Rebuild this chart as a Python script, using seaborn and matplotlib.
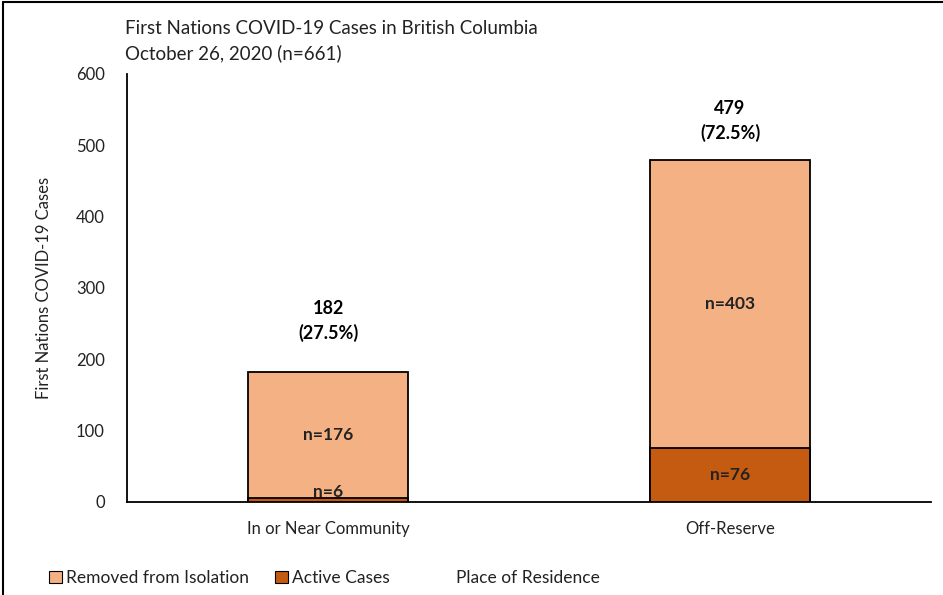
import matplotlib
matplotlib.use("Agg")
import matplotlib.pyplot as plt
import seaborn as sns
import numpy as np
import pandas as pd
from matplotlib.patches import Patch
from matplotlib.lines import Line2D

categories = ["In or Near Community", "Off-Reserve"]
removed = [176, 403]
active = [6, 76]
title_lines = ["First Nations COVID-19 Cases in British Columbia", "October 26, 2020 (n=661)"]
y_ticks = [0, 100, 200, 300, 400, 500, 600]

LIGHT = "#F4B183"
DARK = "#C55A11"
TXT = "#222222"
total_label_gap_pts = [22, 13]   # style: gap above each bar for the total label

sns.set_theme(style="white")
plt.rcParams["font.family"] = ["Lato", "DejaVu Sans"]

totals = [r + a for r, a in zip(removed, active)]
grand = sum(totals)
df = pd.DataFrame({"cat": categories, "total": totals, "active": active, "removed": removed})

fig = plt.figure(figsize=(9.43, 5.95), dpi=100)
ax = fig.add_axes([127/943, 1 - 502/595, (931 - 127)/943, (502 - 74)/595])

sns.barplot(data=df, x="cat", y="total", color=LIGHT, edgecolor="black", linewidth=1.3,
            width=0.4, ax=ax, saturation=1)
sns.barplot(data=df, x="cat", y="active", color=DARK, edgecolor="black", linewidth=1.3,
            width=0.4, ax=ax, saturation=1)
n = len(categories)
for k, p in enumerate(ax.patches):
    p.set_zorder(2 if k < n else 3)

for i, (r, a) in enumerate(zip(removed, active)):
    ax.text(i, a + r / 2, f"n={r}", ha="center", va="center", fontsize=12.5,
            fontweight="bold", color=TXT, zorder=4)
    if a > 30:
        ax.text(i, a / 2, f"n={a}", ha="center", va="center", fontsize=12.5,
                fontweight="bold", color=TXT, zorder=4)
    else:
        # small segment: label sits just above and is partly covered by the dark segment
        ax.annotate(f"n={a}", (i, a / 2), xytext=(0, 6), textcoords="offset points",
                    ha="center", va="center", fontsize=12.5, fontweight="bold",
                    color=TXT, zorder=2.5)

for i, t in enumerate(totals):
    ax.annotate(f"{t}\n({t / grand * 100:.1f}%)", (i, t), xytext=(0, total_label_gap_pts[i]),
                textcoords="offset points", ha="center", va="bottom",
                fontsize=13, fontweight="bold", linespacing=1.45, color="black")

ax.set_xlim(-0.5, 1.5)
ax.set_ylim(0, 600)
ax.set_yticks(y_ticks)
ax.set_yticklabels([str(v) for v in y_ticks], fontsize=12, color=TXT)
ax.tick_params(axis="x", labelsize=12, colors=TXT, length=0, pad=14)
ax.tick_params(axis="y", length=0, pad=16)
ax.set_xlabel("")
ax.set_ylabel("First Nations COVID-19 Cases", fontsize=12, color=TXT, labelpad=17)
for s in ["top", "right"]:
    ax.spines[s].set_visible(False)
for s in ["left", "bottom"]:
    ax.spines[s].set_color("black")
    ax.spines[s].set_linewidth(1.3)

fig.text(125/943, 1 - 28/595, title_lines[0], fontsize=13.5, va="center", ha="left", color=TXT)
fig.text(125/943, 1 - 53/595, title_lines[1], fontsize=13.5, va="center", ha="left", color=TXT)

handles = [Patch(facecolor=LIGHT, edgecolor="black", linewidth=0.8),
           Patch(facecolor=DARK, edgecolor="black", linewidth=0.8)]
leg = fig.legend(handles, ["Removed from Isolation", "Active Cases"], loc="center left",
                 bbox_to_anchor=(33/943, 1 - 578/595), ncol=2, frameon=False, fontsize=12.5,
                 handlelength=0.75, handleheight=0.75, handletextpad=0.25, columnspacing=1.5,
                 labelcolor=TXT)
fig.text(456/943, 1 - 578/595, "Place of Residence", fontsize=12.5, va="center", ha="left",
         color=TXT)

# partial figure border (left and top)
fig.add_artist(Line2D([3/943, 3/943], [0, 1 - 2/595], color="black", linewidth=1.5,
                      transform=fig.transFigure))
fig.add_artist(Line2D([3/943, 1], [1 - 2/595, 1 - 2/595], color="black", linewidth=1.5,
                      transform=fig.transFigure))

fig.savefig("out.png", dpi=100)
